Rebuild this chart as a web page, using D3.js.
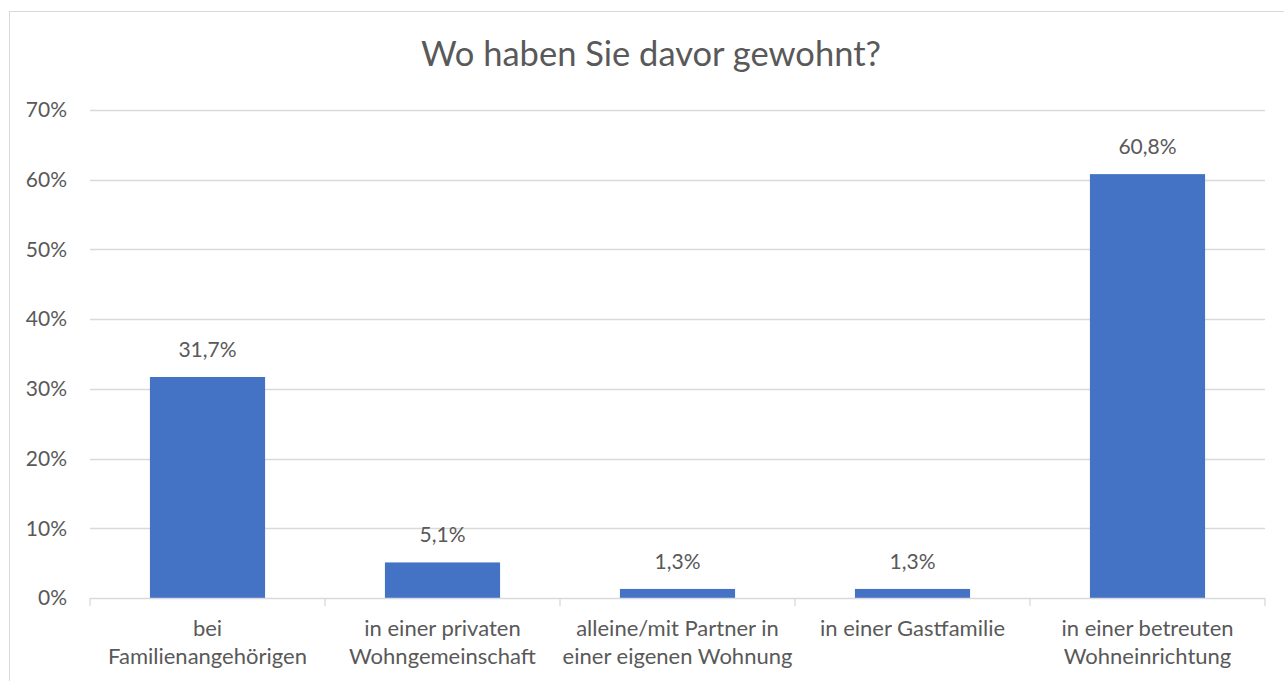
<!DOCTYPE html>
<html>
<head>
<meta charset="utf-8">
<script src="https://cdn.jsdelivr.net/npm/d3@7"></script>
<style>
  body { margin: 0; background: #fff; }
  text { font-family: Lato, "Open Sans", sans-serif; fill: #595959; }
</style>
</head>
<body>
<svg id="chart" width="1284" height="681"></svg>
<script>
const categories = [
  ["bei", "Familienangehörigen"],
  ["in einer privaten", "Wohngemeinschaft"],
  ["alleine/mit Partner in", "einer eigenen Wohnung"],
  ["in einer Gastfamilie"],
  ["in einer betreuten", "Wohneinrichtung"]
];
const values = [31.7, 5.1, 1.3, 1.3, 60.8];
const yTicks = [0, 10, 20, 30, 40, 50, 60, 70];
const title = "Wo haben Sie davor gewohnt?";

const svg = d3.select("#chart");
const margin = {top: 110, left: 90, right: 19, bottom: 83};
const width = 1284, height = 681;

// outer chart border
svg.append("rect")
  .attr("x", 9.5).attr("y", 11.5)
  .attr("width", 1290).attr("height", 700)
  .attr("fill", "none").attr("stroke", "#d9d9d9");

const x = d3.scaleBand()
  .domain(d3.range(categories.length))
  .range([margin.left, width - margin.right])
  .paddingInner(0.51).paddingOuter(0.255);

const y = d3.scaleLinear()
  .domain([0, 70])
  .range([height - margin.bottom, margin.top]);

// gridlines
svg.append("g")
  .selectAll("line")
  .data(yTicks.slice(1))
  .join("line")
  .attr("x1", margin.left).attr("x2", width - margin.right)
  .attr("y1", d => Math.round(y(d)) + 0.5).attr("y2", d => Math.round(y(d)) + 0.5)
  .attr("stroke", "#d9d9d9").attr("stroke-width", 1.3);

// y labels
svg.append("g")
  .selectAll("text")
  .data(yTicks)
  .join("text")
  .attr("x", 67).attr("y", d => y(d))
  .attr("dy", "0.35em")
  .attr("text-anchor", "end")
  .style("font-size", "21px")
  .text(d => d + "%");

// bars
svg.append("g")
  .selectAll("rect")
  .data(values)
  .join("rect")
  .attr("x", (d, i) => x(i))
  .attr("width", x.bandwidth())
  .attr("y", d => y(d))
  .attr("height", d => y(0) - y(d))
  .attr("fill", "#4472c4");

// data labels
svg.append("g")
  .selectAll("text")
  .data(values)
  .join("text")
  .attr("x", (d, i) => x(i) + x.bandwidth() / 2)
  .attr("y", d => y(d) - 20)
  .attr("text-anchor", "middle")
  .style("font-size", "21px")
  .text(d => d3.format(".1f")(d).replace(".", ",") + "%");

// x axis line with category ticks
const step = x.step();
const bounds = d3.range(categories.length + 1).map(i => margin.left + i * step);
const axis = svg.append("g").attr("stroke", "#d9d9d9").attr("stroke-width", 1.3);
axis.append("line")
  .attr("x1", margin.left).attr("x2", width - margin.right)
  .attr("y1", y(0) + 0.5).attr("y2", y(0) + 0.5);
axis.selectAll(".tk")
  .data(bounds)
  .join("line")
  .attr("class", "tk")
  .attr("x1", d => d).attr("x2", d => d)
  .attr("y1", y(0)).attr("y2", y(0) + 8);

// category labels
svg.append("g")
  .selectAll("text")
  .data(categories)
  .join("text")
  .attr("x", (d, i) => x(i) + x.bandwidth() / 2)
  .attr("y", 636)
  .attr("text-anchor", "middle")
  .style("font-size", "22px")
  .selectAll("tspan")
  .data(d => d)
  .join("tspan")
  .attr("x", function () { return this.parentNode.getAttribute("x"); })
  .attr("dy", (d, i) => i === 0 ? 0 : 28)
  .text(d => d);

// title
svg.append("text")
  .attr("x", 651).attr("y", 66)
  .attr("text-anchor", "middle")
  .style("font-size", "34.5px")
  .text(title);
</script>
</body>
</html>
